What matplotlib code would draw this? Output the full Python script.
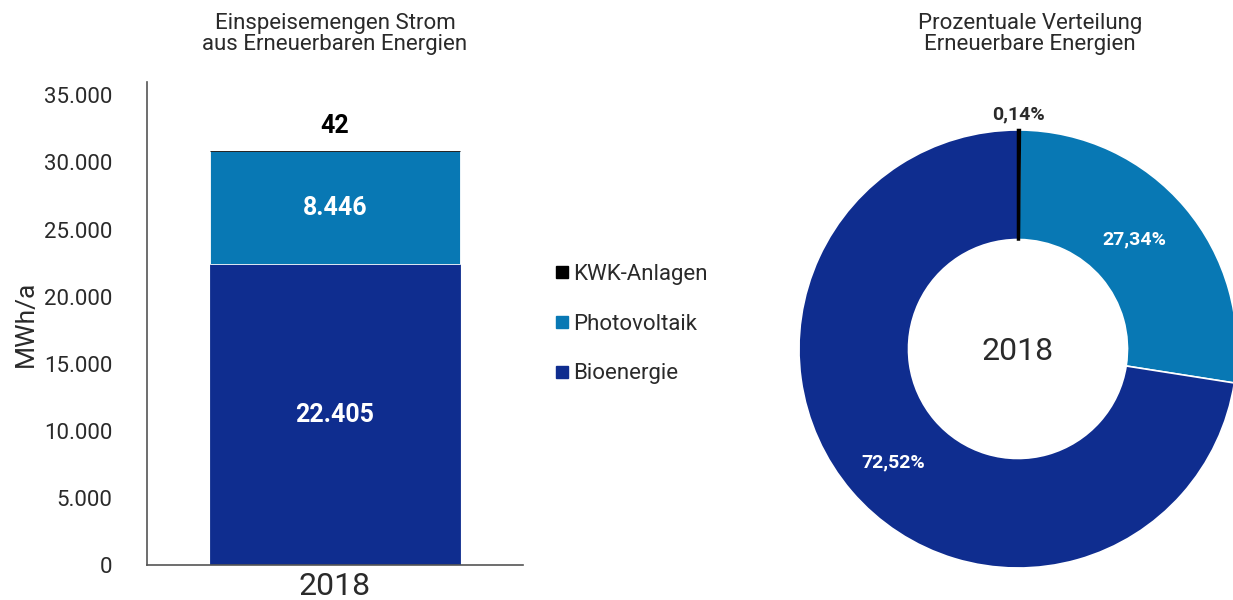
import numpy as np
import matplotlib
matplotlib.use("Agg")
import matplotlib.pyplot as plt
from matplotlib.lines import Line2D

YEAR = "2018"
SOURCES = ["Bioenergie", "Photovoltaik", "KWK-Anlagen"]
VALUES = [22405, 8446, 42]
SHARES = [72.52, 27.34, 0.14]
COLORS = {"Bioenergie": "#0f2d8f", "Photovoltaik": "#0878b4", "KWK-Anlagen": "#000000"}
YTICKS = [0, 5000, 10000, 15000, 20000, 25000, 30000, 35000]

plt.rcParams["font.family"] = ["Roboto", "DejaVu Sans"]
TXT = "#2a2a2a"


def fmt_de(v):
    return f"{v:,.0f}".replace(",", ".")


def fmt_pct(v):
    return f"{v:.2f}%".replace(".", ",")


fig = plt.figure(figsize=(12.33, 6), dpi=100)

# --- stacked bar ---
ax = fig.add_axes([147 / 1233, 1 - 565 / 600, 376 / 1233, 483 / 600])
bottom = 0
for name, val in zip(SOURCES, VALUES):
    ax.bar([0], [val], bottom=bottom, width=0.665, color=COLORS[name],
           edgecolor="white" if name == "Photovoltaik" else COLORS[name], linewidth=0.6)
    if name == "KWK-Anlagen":
        ax.text(0, bottom + val + 900, fmt_de(val), ha="center", va="bottom",
                fontsize=18, fontweight="bold", color="black")
    else:
        ax.text(0, bottom + val / 2, fmt_de(val), ha="center", va="center",
                fontsize=18, fontweight="bold", color="white")
    bottom += val

ax.set_xlim(-0.5, 0.5)
ax.set_ylim(0, 36000)
ax.set_yticks(YTICKS)
ax.set_yticklabels([fmt_de(t) for t in YTICKS], fontsize=16, color=TXT)
ax.set_xticks([0])
ax.set_xticklabels([YEAR], fontsize=23, color=TXT)
ax.tick_params(axis="y", length=0, pad=25)
ax.tick_params(axis="x", length=0, pad=5)
ax.set_ylabel("MWh/a", fontsize=19, color=TXT, labelpad=4)
for s in ["top", "right"]:
    ax.spines[s].set_visible(False)
for s in ["left", "bottom"]:
    ax.spines[s].set_color("#555555")
    ax.spines[s].set_linewidth(1.2)

fig.text(335 / 1233, 1 - 34 / 600, "Einspeisemengen Strom\naus Erneuerbaren Energien",
         ha="center", va="center", fontsize=16, color=TXT, linespacing=1.0)

# --- legend ---
handles = [Line2D([], [], marker="s", linestyle="none", markersize=8,
                  color=COLORS[n]) for n in SOURCES[::-1]]
fig.legend(handles, SOURCES[::-1], loc="center left",
           bbox_to_anchor=(536 / 1233, 1 - 324 / 600), frameon=False,
           fontsize=16, handlelength=0.5, handletextpad=0.25, labelspacing=1.3,
           labelcolor=TXT)

# --- donut ---
r = 219
axp = fig.add_axes([(1018 - r) / 1233, 1 - (349 + r) / 600, 2 * r / 1233, 2 * r / 600])
order = ["KWK-Anlagen", "Photovoltaik", "Bioenergie"]
shares = [SHARES[SOURCES.index(n)] for n in order]
wedges, _ = axp.pie(shares, colors=[COLORS[n] for n in order], startangle=90,
                    counterclock=False, radius=1,
                    wedgeprops=dict(width=0.5, edgecolor="white", linewidth=1.2))
wedges[0].set_edgecolor("black")
wedges[0].set_linewidth(1.8)
wedges[0].set_zorder(5)
axp.set_xlim(-1, 1)
axp.set_ylim(-1, 1)
axp.set_aspect("equal")
axp.axis("off")

axp.text(0, 1.03, fmt_pct(shares[0]), ha="center", va="bottom",
         fontsize=14, fontweight="bold", color=TXT)
axp.text(0.53, 0.5, fmt_pct(shares[1]), ha="center", va="center",
         fontsize=14, fontweight="bold", color="white")
axp.text(-0.57, -0.52, fmt_pct(shares[2]), ha="center", va="center",
         fontsize=14, fontweight="bold", color="white")
axp.text(0, -0.01, YEAR, ha="center", va="center", fontsize=23, color=TXT)

fig.text(1030 / 1233, 1 - 34 / 600, "Prozentuale Verteilung\nErneuerbare Energien",
         ha="center", va="center", fontsize=16, color=TXT, linespacing=1.0)

fig.savefig("out.png", dpi=100)
